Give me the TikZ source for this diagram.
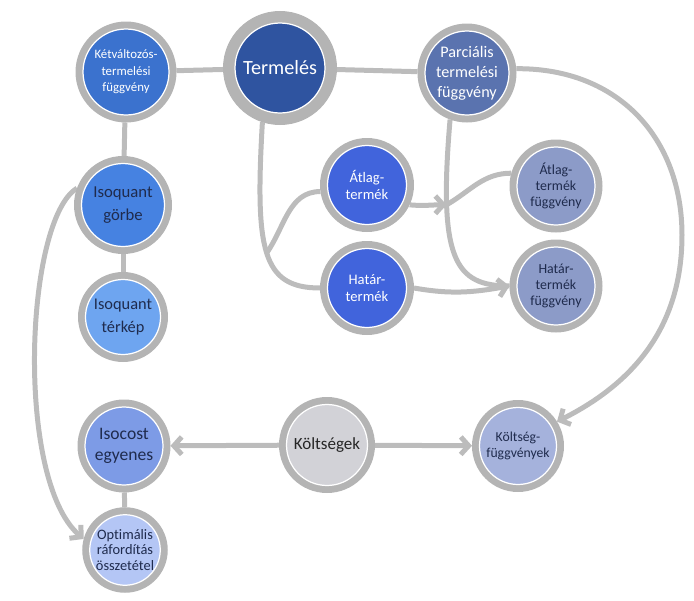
\documentclass[tikz,border=0pt]{standalone}
\usepackage{fontspec}
\setmainfont{Carlito}[Ligatures=NoCommon]
\usepackage{tikz}
\usetikzlibrary{arrows.meta, positioning, backgrounds}

\definecolor{ringgray}{HTML}{B4B4B4}
\definecolor{linegray}{HTML}{BCBCBC}
\definecolor{darktext}{HTML}{1F2B4D}
\definecolor{cKetv}{HTML}{3B72CE}
\definecolor{cTerm}{HTML}{2F54A0}
\definecolor{cParc}{HTML}{5A73AF}
\definecolor{cTermek}{HTML}{4164DC}
\definecolor{cFuggv}{HTML}{8C9BC8}
\definecolor{cGorbe}{HTML}{4682E1}
\definecolor{cTerkep}{HTML}{6EA5F0}
\definecolor{cIsocost}{HTML}{7D9BE6}
\definecolor{cOptim}{HTML}{B4C6F5}
\definecolor{cKolts}{HTML}{D2D2D7}
\definecolor{cKoltsf}{HTML}{A5B2DC}

\begin{document}
\begin{tikzpicture}[x=0.02cm, y=0.02cm,
  bub/.style={circle, align=center, inner sep=0pt, text=darktext,
    draw=white, line width=0.7pt,
    preaction={draw=ringgray, line width=2*#1}, outer sep=#1},
  bub/.default=0.15cm,
  conn/.style={draw=linegray, line width=0.1cm},
  arr/.style={conn, -{Straight Barb[length=4.5pt,width=10pt]}}]

\useasboundingbox (0,0) rectangle (694,600);

% felso sor
\node[bub, fill=cKetv, text=white, minimum size=1.72cm,
  font=\fontsize{7.3}{9.4}\selectfont] (ketv) at (126,528) {Kétváltozós-\\termelési\\függvény};
\node[bub=0.24cm, fill=cTerm, text=white, minimum size=1.80cm,
  font=\fontsize{11.5}{13}\selectfont] (term) at (280,532) {Termelés};
\node[bub, fill=cParc, text=white, minimum size=1.68cm,
  font=\fontsize{9.2}{11.3}\selectfont] (parc) at (467,527) {Parciális\\termelési\\függvény};

% kozepe
\node[bub, fill=cTermek, text=white, minimum size=1.58cm,
  font=\fontsize{8.3}{10}\selectfont] (atlag) at (367,415) {Átlag-\\termék};
\node[bub, fill=cTermek, text=white, minimum size=1.58cm,
  font=\fontsize{8.3}{10}\selectfont] (hatar) at (367,312) {Határ-\\termék};
\node[bub, fill=cFuggv, minimum size=1.56cm,
  font=\fontsize{7.9}{9}\selectfont] (atlagf) at (556,414) {Átlag-\\termék\\függvény};
\node[bub, fill=cFuggv, minimum size=1.56cm,
  font=\fontsize{7.9}{9}\selectfont] (hatarf) at (556,314) {Határ-\\termék\\függvény};

% bal oszlop
\node[bub, fill=cGorbe, minimum size=1.66cm,
  font=\fontsize{9.5}{13}\selectfont] (gorbe) at (123,395) {Isoquant\\görbe};
\node[bub, fill=cTerkep, minimum size=1.50cm,
  font=\fontsize{9.3}{13}\selectfont] (terkep) at (123,283) {Isoquant\\térkép};
\node[bub, fill=cIsocost, minimum size=1.56cm,
  font=\fontsize{10}{12.3}\selectfont] (isocost) at (124,154) {Isocost\\egyenes};
\node[bub, fill=cOptim, minimum size=1.40cm,
  font=\fontsize{8.2}{8.6}\selectfont] (optim) at (125,50) {Optimális\\ráfordítás\\összetétel};

% koltsegek
\node[bub, fill=cKolts, text=black!85, minimum size=1.62cm,
  font=\fontsize{9.7}{11}\selectfont] (kolts) at (327,155) {Költségek};
\node[bub, fill=cKoltsf, minimum size=1.54cm,
  font=\fontsize{7.8}{9.2}\selectfont] (koltsf) at (518,154) {Költség-\\függvények};

\begin{scope}[on background layer]
  \draw[conn] (ketv) -- (term);
  \draw[conn] (term) -- (parc);
  \draw[conn] (ketv) -- (gorbe);
  \draw[conn] (gorbe) -- (terkep);
  \draw[conn] (isocost) -- (optim);
  \draw[arr] (kolts) -- (isocost);
  \draw[arr] (kolts) -- (koltsf);
  % termeles agai
  \draw[conn] (term.252) .. controls (255,350) and (262,312) .. (hatar.west)
    coordinate[pos=0.5] (tb);
  \draw[conn] (tb) to[out=55, in=180] (atlag.188);
  % parcialis agai
  \draw[conn] (parc.250) .. controls (438,340) and (455,314) .. (hatarf.west)
    coordinate[pos=0.25] (pb);
  \draw[conn] (pb) to[out=30, in=180] (atlagf.164);
  \draw[arr] (atlag.-25) to[out=-5, in=180] (pb);
  \draw[arr] (hatar.east) to[out=-10, in=190] (hatarf.west);
  \draw[arr] (parc.5) .. controls (620,532) and (682,460) .. (682,365)
    .. controls (682,270) and (630,215) .. (koltsf.32);
  \draw[arr] (gorbe.160) .. controls (25,380) and (15,120) .. (optim.165);
\end{scope}
\end{tikzpicture}
\end{document}
